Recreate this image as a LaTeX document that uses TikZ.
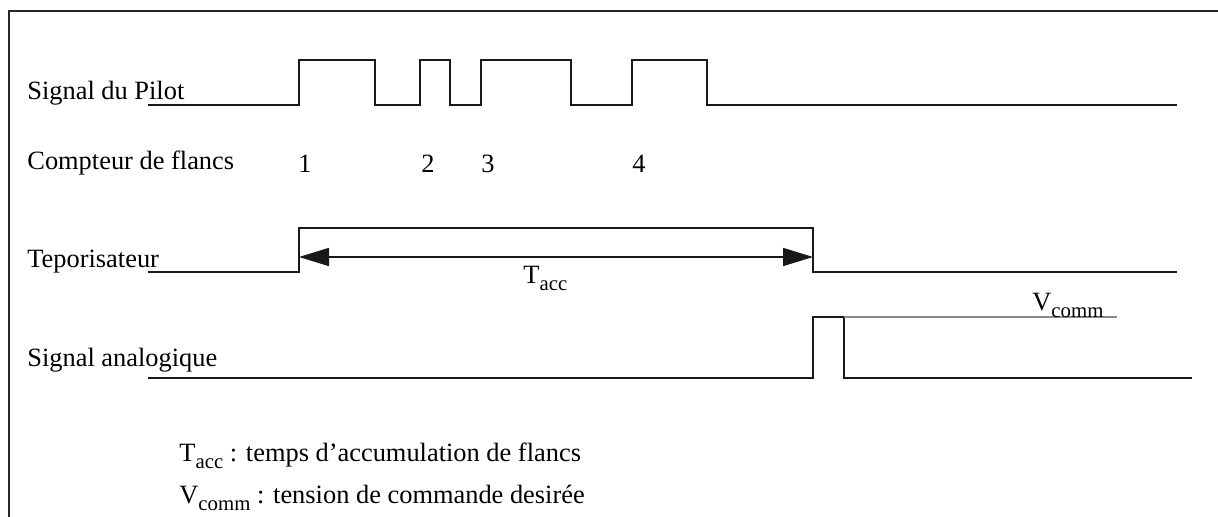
\documentclass[tikz,border=0pt]{standalone}
\usepackage{fontspec}
\setmainfont{Liberation Serif}
\usetikzlibrary{arrows.meta}

\newcommand{\lowidx}[1]{\raisebox{-3.5pt}{\fontsize{10.4}{10}\selectfont #1}}

\begin{document}
\begin{tikzpicture}[x=0.5pt,y=-0.5pt,
        sig/.style={line width=0.8pt, black!90},
        lbl/.style={anchor=base west, inner sep=0pt, font=\fontsize{13.2}{15}\selectfont},
        num/.style={anchor=base, inner sep=0pt, font=\fontsize{13.2}{15}\selectfont}]
        \useasboundingbox (0,0) rectangle (1218,517);

        % frame
        \draw[line width=1pt, black!85] (9,517) -- (9,11) -- (1218,11);

        % signal names
        \node[lbl] (pilot_lbl) at (27,100) {Signal du Pilot};
        \node[lbl] (count_lbl) at (27,170) {Compteur de flancs};
        \node[lbl] (tempo_lbl) at (27,268) {Teporisateur};
        \node[lbl] (analog_lbl) at (27,366) {Signal analogique};

        % edge counter
        \node[num] (cnt1) at (305,173) {1};
        \node[num] (cnt2) at (428,173) {2};
        \node[num] (cnt3) at (488,173) {3};
        \node[num] (cnt4) at (639,173) {4};

        % pilot signal
        \draw[sig] (148,105) -- (299,105) -- (299,60) -- (375,60) -- (375,105)
                -- (420,105) -- (420,60) -- (450,60) -- (450,105)
                -- (481,105) -- (481,60) -- (571,60) -- (571,105)
                -- (632,105) -- (632,60) -- (707,60) -- (707,105) -- (1177,105);

        % timer
        \draw[sig] (148,272) -- (299,272) -- (299,228) -- (813,228) -- (813,272) -- (1177,272);
        \coordinate (tacc_start) at (299,257);
        \coordinate (tacc_end) at (813,257);
        \draw[{Triangle[length=15pt,width=9pt]}-{Triangle[length=15pt,width=9pt]}, line width=0.8pt, black!90]
                (tacc_start) -- (tacc_end);
        \node[lbl] (tacc_lbl) at (523,284) {T\lowidx{acc}};

        % analog output
        \draw[sig] (148,378) -- (813,378) -- (813,317) -- (844,317) -- (844,378) -- (1192,378);
        \draw[line width=0.8pt, black!45] (844,317) -- (1117,317);
        \node[lbl] (vcomm_lbl) at (1032,311) {V\lowidx{comm}};

        % legend
        \node[lbl] (legend_t) at (179,461) {T\lowidx{acc} : temps d'accumulation de flancs};
        \node[lbl] (legend_v) at (179,503) {V\lowidx{comm} : tension de commande desirée};
\end{tikzpicture}
\end{document}
